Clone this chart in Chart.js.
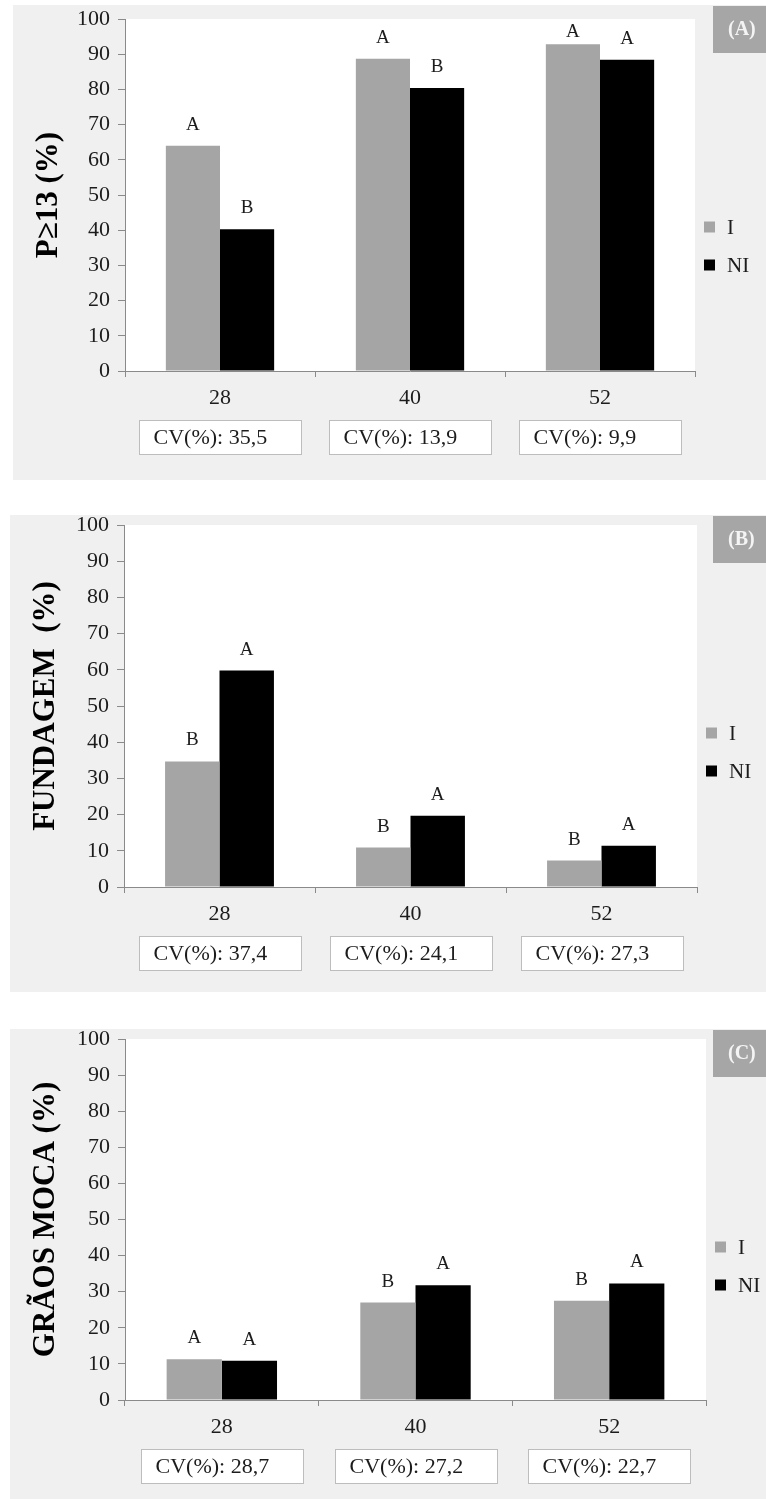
<!DOCTYPE html>
<html>
<head>
<meta charset="utf-8">
<script src="https://cdn.jsdelivr.net/npm/chart.js@4.4.1/dist/chart.umd.min.js"></script>
<style>
  html, body { margin: 0; padding: 0; background: #ffffff; }
  body { width: 766px; height: 1499px; position: relative; overflow: hidden; }
  canvas { position: absolute; left: 0; }
</style>
</head>
<body>
<canvas id="panelA"></canvas>
<canvas id="panelB"></canvas>
<canvas id="panelC"></canvas>
<script>
// ---- data ----
const categories = ['28', '40', '52'];
const seriesNames = ['I', 'NI'];

// (A) P≥13 (%)
const p13_I = [64.0, 88.7, 92.8];
const p13_NI = [40.3, 80.4, 88.4];
const p13_letters_I = ['A', 'A', 'A'];
const p13_letters_NI = ['B', 'B', 'A'];
const p13_cv = ['35,5', '13,9', '9,9'];

// (B) FUNDAGEM (%)
const fund_I = [34.7, 10.9, 7.3];
const fund_NI = [59.8, 19.7, 11.4];
const fund_letters_I = ['B', 'B', 'B'];
const fund_letters_NI = ['A', 'A', 'A'];
const fund_cv = ['37,4', '24,1', '27,3'];

// (C) GRÃOS MOCA (%)
const moca_I = [11.3, 27.0, 27.5];
const moca_NI = [10.9, 31.8, 32.3];
const moca_letters_I = ['A', 'B', 'B'];
const moca_letters_NI = ['A', 'A', 'A'];
const moca_cv = ['28,7', '27,2', '22,7'];

const yMin = 0, yMax = 100, yStep = 10;

// ---- styling ----
const FONT = "'Liberation Serif', 'Times New Roman', serif";
const COLOR_I = '#a5a5a5';
const COLOR_NI = '#000000';
const AXIS = '#8a8a8a';
const PANEL_BG = '#f0f0f0';
const TAG_BG = '#a6a6a6';
const TEXT = '#1c1c1c';

// page-space frame of each panel
const panels = [
  { id: 'panelA', tag: '(A)', title: 'P\u226513 (%)', I: p13_I, NI: p13_NI, lI: p13_letters_I, lNI: p13_letters_NI, cv: p13_cv,
    grayLeft: 13, grayTop: 5, grayBottom: 480, plotLeft: 125, plotTop: 19, plotRight: 695, plotBottom: 371 },
  { id: 'panelB', tag: '(B)', title: 'FUNDAGEM  (%)', I: fund_I, NI: fund_NI, lI: fund_letters_I, lNI: fund_letters_NI, cv: fund_cv,
    grayLeft: 10, grayTop: 515, grayBottom: 992, plotLeft: 124, plotTop: 525, plotRight: 697, plotBottom: 887 },
  { id: 'panelC', tag: '(C)', title: 'GR\u00c3OS MOCA (%)', I: moca_I, NI: moca_NI, lI: moca_letters_I, lNI: moca_letters_NI, cv: moca_cv,
    grayLeft: 10, grayTop: 1029, grayBottom: 1499, plotLeft: 125, plotTop: 1039, plotRight: 706, plotBottom: 1400 }
];

const PAGE_W = 766;
const TAG_LEFT = 713;

function makeDecor(p, canvasTop) {
  return {
    id: 'decor_' + p.id,
    beforeDraw(chart) {
      const ctx = chart.ctx;
      const a = chart.chartArea;
      ctx.save();
      ctx.fillStyle = PANEL_BG;
      ctx.fillRect(p.grayLeft, p.grayTop - canvasTop, PAGE_W - p.grayLeft, p.grayBottom - p.grayTop);
      ctx.fillStyle = '#ffffff';
      ctx.fillRect(a.left, a.top, a.right - a.left, a.bottom - a.top);
      ctx.restore();
    },
    afterDraw(chart) {
      const ctx = chart.ctx;
      const a = chart.chartArea;
      ctx.save();

      // significance letters above each bar
      ctx.fillStyle = TEXT;
      ctx.font = '19px ' + FONT;
      ctx.textAlign = 'center';
      ctx.textBaseline = 'middle';
      const letterSets = [p.lI, p.lNI];
      chart.data.datasets.forEach((ds, di) => {
        const meta = chart.getDatasetMeta(di);
        meta.data.forEach((bar, j) => {
          const ly = Math.max(bar.y - 21, a.top + 13);
          ctx.fillText(letterSets[di][j], bar.x, ly);
        });
      });

      // CV boxes under the category labels
      const xs = chart.scales.x;
      ctx.font = '22px ' + FONT;
      ctx.textAlign = 'left';
      p.cv.forEach((v, j) => {
        const cx = xs.getPixelForValue(j);
        const bw = 162, bh = 34;
        const bx = Math.round(cx - bw / 2) + 0.5;
        const by = Math.round(a.bottom + 49) + 0.5;
        ctx.fillStyle = '#ffffff';
        ctx.fillRect(bx, by, bw, bh);
        ctx.strokeStyle = '#bdbdbd';
        ctx.lineWidth = 1;
        ctx.strokeRect(bx, by, bw, bh);
        ctx.fillStyle = TEXT;
        ctx.fillText('CV(%): ' + v, bx + 14, by + bh / 2 + 1);
      });

      // legend
      ctx.font = '21px ' + FONT;
      chart.data.datasets.forEach((ds, di) => {
        const cy = a.top + 208 + di * 38;
        ctx.fillStyle = ds.backgroundColor;
        ctx.fillRect(a.right + 9, cy - 5.5, 11, 11);
        ctx.fillStyle = TEXT;
        ctx.textAlign = 'left';
        ctx.fillText(ds.label, a.right + 32, cy + 1);
      });

      // panel tag
      const ty = p.grayTop - canvasTop + 1;
      ctx.fillStyle = TAG_BG;
      ctx.fillRect(TAG_LEFT, ty, PAGE_W - TAG_LEFT, 47);
      ctx.fillStyle = '#f4f4f4';
      ctx.font = 'bold 20px ' + FONT;
      ctx.textAlign = 'left';
      ctx.fillText(p.tag, TAG_LEFT + 15, ty + 24);

      // vertical axis title
      ctx.translate(p.grayLeft + 36, (a.top + a.bottom) / 2);
      ctx.rotate(-Math.PI / 2);
      ctx.fillStyle = '#000000';
      ctx.font = 'bold 31px ' + FONT;
      ctx.textAlign = 'center';
      ctx.textBaseline = 'middle';
      ctx.fillText(p.title, 0, 0);
      ctx.restore();
    }
  };
}

panels.forEach(p => {
  const canvasTop = p.grayTop - 20;
  const canvasH = p.grayBottom - canvasTop;
  const cv = document.getElementById(p.id);
  cv.width = PAGE_W;
  cv.height = canvasH;
  cv.style.width = PAGE_W + 'px';
  cv.style.height = canvasH + 'px';
  cv.style.top = canvasTop + 'px';

  const yWidth = p.plotLeft;
  const xHeight = canvasH - (p.plotBottom - canvasTop);

  new Chart(cv, {
    type: 'bar',
    data: {
      labels: categories,
      datasets: [
        { label: seriesNames[0], data: p.I, backgroundColor: COLOR_I, categoryPercentage: 0.57, barPercentage: 1.0 },
        { label: seriesNames[1], data: p.NI, backgroundColor: COLOR_NI, categoryPercentage: 0.57, barPercentage: 1.0 }
      ]
    },
    options: {
      responsive: false,
      animation: false,
      devicePixelRatio: 1,
      layout: { padding: { left: 0, top: p.plotTop - canvasTop, right: PAGE_W - p.plotRight, bottom: 0 } },
      plugins: { legend: { display: false }, tooltip: { enabled: false } },
      scales: {
        x: {
          grid: { display: true, drawOnChartArea: false, drawTicks: true, tickLength: 6, color: AXIS, offset: true },
          border: { display: true, color: AXIS, width: 1 },
          ticks: { font: { family: FONT, size: 22 }, color: TEXT, padding: 8 },
          afterFit: s => { s.height = xHeight; }
        },
        y: {
          min: yMin, max: yMax,
          ticks: { stepSize: yStep, font: { family: FONT, size: 22 }, color: TEXT, padding: 8 },
          grid: { display: true, drawOnChartArea: false, drawTicks: true, tickLength: 7, color: AXIS },
          border: { display: true, color: AXIS, width: 1 },
          afterFit: s => { s.width = yWidth; }
        }
      }
    },
    plugins: [makeDecor(p, canvasTop)]
  });
});
</script>
</body>
</html>
